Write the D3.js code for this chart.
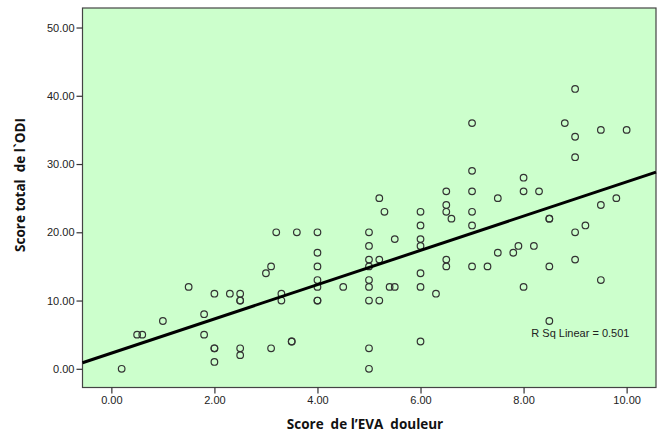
<!DOCTYPE html>
<html>
<head>
<meta charset="utf-8">
<script src="https://cdn.jsdelivr.net/npm/d3@7"></script>
<style>
  body { margin: 0; background: #fff; }
  text { font-family: "Liberation Sans", Arial, sans-serif; }
</style>
</head>
<body>
<div id="chart"></div>
<script>
// Score EVA (x) and score ODI (y)
const evaScores = [
  0.2, 0.5, 0.6, 1, 1.5, 1.8, 1.8, 2, 2, 2, 2, 2.3, 2.5, 2.5, 2.5, 2.5, 2.5,
  3, 3.1, 3.1, 3.2, 3.3, 3.3, 3.5, 3.5, 3.6, 4, 4, 4, 4, 4, 4, 4, 4.5,
  5, 5, 5, 5, 5, 5, 5, 5, 5, 5.2, 5.2, 5.2, 5.3, 5.4, 5.5, 5.5,
  6, 6, 6, 6, 6, 6, 6, 6.3, 6.5, 6.5, 6.5, 6.5, 6.5, 6.6,
  7, 7, 7, 7, 7, 7, 7.3, 7.5, 7.5, 7.8, 7.9, 8, 8, 8, 8.2, 8.3,
  8.5, 8.5, 8.5, 8.5, 8.8, 9, 9, 9, 9, 9, 9.2, 9.5, 9.5, 9.5, 9.8, 10
];
const odiScores = [
  0, 5, 5, 7, 12, 8, 5, 11, 3, 3, 1, 11, 11, 10, 10, 3, 2,
  14, 15, 3, 20, 11, 10, 4, 4, 20, 20, 17, 15, 13, 12, 10, 10, 12,
  20, 18, 16, 15, 13, 12, 10, 3, 0, 25, 16, 10, 23, 12, 12, 19,
  23, 21, 19, 18, 14, 12, 4, 11, 26, 24, 23, 16, 15, 22,
  36, 29, 26, 23, 21, 15, 15, 25, 17, 17, 18, 28, 26, 12, 18, 26,
  22, 22, 15, 7, 36, 41, 34, 31, 20, 16, 21, 35, 24, 13, 25, 35
];
const xTicks = [0, 2, 4, 6, 8, 10];
const yTicks = [0, 10, 20, 30, 40, 50];
const fitLine = [2.29, 2.51]; // intercept, slope
const rSqLabel = "R Sq Linear = 0.501";

const points = evaScores.map((v, i) => ({ x: v, y: odiScores[i] }));

const width = 660, height = 434;
const plot = { left: 82.5, top: 8, right: 656, bottom: 387.5 };

const svg = d3.select("#chart").append("svg")
  .attr("width", width)
  .attr("height", height);

const x = d3.scaleLinear().domain([-0.56, 10.57]).range([plot.left, plot.right]);
const y = d3.scaleLinear().domain([-2.74, 52.86]).range([plot.bottom, plot.top]);

// plot background
svg.append("rect")
  .attr("x", plot.left).attr("y", plot.top)
  .attr("width", plot.right - plot.left)
  .attr("height", plot.bottom - plot.top)
  .attr("fill", "#ccffcc")
  .attr("stroke", "#444")
  .attr("stroke-width", 1.2);

// axes
const yAxis = svg.append("g")
  .attr("transform", `translate(${plot.left},0)`)
  .call(d3.axisLeft(y).tickValues(yTicks).tickFormat(d3.format(".2f")).tickSize(6).tickPadding(2));
const xAxis = svg.append("g")
  .attr("transform", `translate(0,${plot.bottom})`)
  .call(d3.axisBottom(x).tickValues(xTicks).tickFormat(d3.format(".2f")).tickSize(6).tickPadding(3));

[xAxis, yAxis].forEach(a => {
  a.select(".domain").remove();
  a.selectAll(".tick line").attr("stroke", "#333").attr("stroke-width", 1.2);
  a.selectAll(".tick text")
    .attr("fill", "#222")
    .style("font-size", "11px")
    .style("font-family", "'Liberation Sans', Arial, sans-serif");
});

// points
svg.append("g")
  .selectAll("circle")
  .data(points)
  .enter()
  .append("circle")
  .attr("cx", d => x(d.x))
  .attr("cy", d => y(d.y))
  .attr("r", 3.3)
  .attr("fill", "none")
  .attr("stroke", "#333")
  .attr("stroke-width", 1.2);

// regression line
const xd = x.domain();
svg.append("line")
  .attr("x1", x(xd[0])).attr("y1", y(fitLine[0] + fitLine[1] * xd[0]))
  .attr("x2", x(xd[1])).attr("y2", y(fitLine[0] + fitLine[1] * xd[1]))
  .attr("stroke", "#000")
  .attr("stroke-width", 3);

// R squared label
svg.append("text")
  .attr("x", x(8.15))
  .attr("y", y(4.6))
  .attr("fill", "#222")
  .style("font-size", "11px")
  .text(rSqLabel);

// axis titles (keep the double spaces)
svg.append("text")
  .attr("x", 365)
  .attr("y", 429)
  .attr("text-anchor", "middle")
  .style("white-space", "pre")
  .style("font-family", "'Open Sans', sans-serif")
  .style("font-weight", "bold")
  .style("font-size", "13.5px")
  .attr("fill", "#111")
  .text("Score  de l’EVA  douleur");

svg.append("text")
  .attr("transform", "translate(25,185) rotate(-90)")
  .attr("text-anchor", "middle")
  .style("white-space", "pre")
  .style("font-family", "'Open Sans', sans-serif")
  .style("font-weight", "bold")
  .style("font-size", "13.5px")
  .attr("fill", "#111")
  .text("Score total  de l`ODI");
</script>
</body>
</html>
